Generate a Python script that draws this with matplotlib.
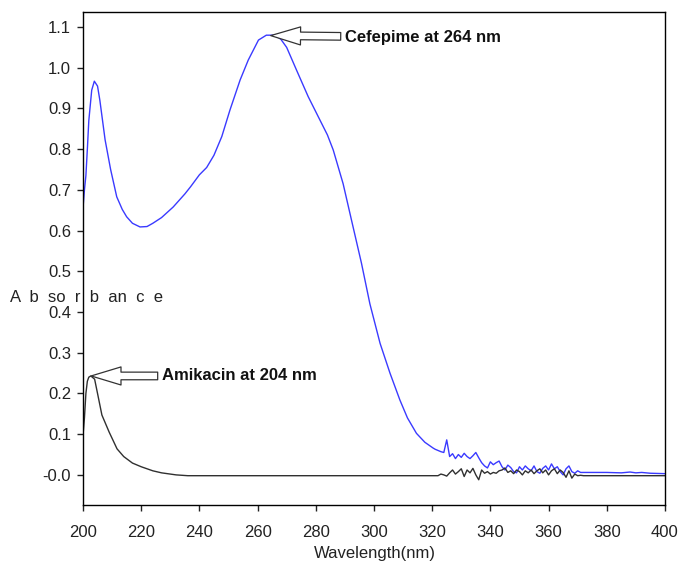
import matplotlib
matplotlib.use("Agg")
import matplotlib.pyplot as plt
import numpy as np

plt.rcParams['font.family'] = ['Liberation Sans', 'DejaVu Sans']

# Cefepime (blue) smooth part
cef_x = [200, 200.5, 201, 201.5, 202, 203, 203.9, 205, 205.8, 207.6, 209.5, 211.6, 213.5, 215, 217,
         219.6, 222, 224, 227, 231, 235, 237, 240, 242.5, 245, 247.7, 250.5, 254, 256.8, 260.3,
         263, 266, 268, 270, 273.4, 277.4, 281.4, 284, 286, 289.4, 292.3, 295.7, 298.6, 302.1,
         305.5, 308.9, 311.5, 314.6, 317.5, 320.3, 321]
cef_y = [0.655, 0.70, 0.735, 0.80, 0.87, 0.945, 0.967, 0.955, 0.92, 0.823, 0.75, 0.683, 0.652, 0.634, 0.618,
         0.609, 0.610, 0.618, 0.632, 0.658, 0.69, 0.708, 0.737, 0.755, 0.785, 0.831, 0.896, 0.970, 1.019, 1.068,
         1.080, 1.080, 1.070, 1.050, 0.994, 0.929, 0.872, 0.835, 0.798, 0.715, 0.625, 0.52, 0.42, 0.323,
         0.25, 0.184, 0.14, 0.102, 0.08, 0.066, 0.063]

# Cefepime noisy tail (1 nm steps, 322-372) and flat end
cef_tail_x = list(range(322, 373)) + [375, 380, 385, 388, 390, 392, 395, 400]
cef_tail_y = [0.060, 0.057, 0.055, 0.086, 0.045, 0.052, 0.040, 0.050, 0.043, 0.053,
              0.045, 0.040, 0.047, 0.055, 0.042, 0.030, 0.022, 0.017, 0.032, 0.025,
              0.030, 0.034, 0.020, 0.012, 0.024, 0.018, 0.008, 0.005, 0.020, 0.012,
              0.022, 0.015, 0.010, 0.022, 0.008, 0.004, 0.016, 0.022, 0.012, 0.027,
              0.015, 0.020, 0.008, 0.000, 0.015, 0.022, 0.008, 0.004, 0.010, 0.006,
              0.006, 0.006, 0.006, 0.005, 0.007, 0.005, 0.006, 0.004, 0.003]

# Amikacin (black)
ami_x = [200, 200.5, 201, 201.5, 202, 202.7, 204, 205, 206.5, 209, 211.7, 214, 217, 220, 224, 227,
         232, 236, 240, 260, 280, 300, 321]
ami_y = [0.096, 0.14, 0.20, 0.23, 0.24, 0.243, 0.235, 0.20, 0.147, 0.105, 0.064, 0.045, 0.029, 0.020,
         0.010, 0.005, 0.0, -0.002, -0.002, -0.002, -0.002, -0.002, -0.002]
ami_tail_x = list(range(322, 373)) + [380, 390, 400]
ami_tail_y = [-0.002, 0.002, 0.000, -0.003, 0.005, 0.012, 0.002, 0.008, 0.015, -0.004,
              0.012, 0.005, 0.016, 0.000, -0.012, 0.012, 0.004, 0.008, 0.002, 0.006,
              0.004, 0.010, 0.012, 0.017, 0.006, 0.010, 0.003, 0.012, 0.008, 0.000,
              0.010, 0.005, 0.012, 0.003, 0.010, 0.015, 0.005, 0.012, 0.000, 0.010,
              0.015, 0.003, 0.012, 0.006, -0.006, 0.010, -0.008, 0.002, -0.002, -0.001,
              -0.002, -0.002, -0.002, -0.002]

x_ticks = [200, 220, 240, 260, 280, 300, 320, 340, 360, 380, 400]
y_ticks = [0.0, 0.1, 0.2, 0.3, 0.4, 0.5, 0.6, 0.7, 0.8, 0.9, 1.0, 1.1]
y_tick_labels = ['-0.0', '0.1', '0.2', '0.3', '0.4', '0.5', '0.6', '0.7', '0.8', '0.9', '1.0', '1.1']

fig = plt.figure(figsize=(6.83, 5.68), dpi=100)
ax = fig.add_axes([0.1215, 0.1109, 0.8521, 0.868])

ax.plot(cef_x + cef_tail_x, cef_y + cef_tail_y, color='#3a3aff', lw=1.0)
ax.plot(ami_x + ami_tail_x, ami_y + ami_tail_y, color='#303030', lw=1.0)

ax.set_xlim(200, 400)
ax.set_ylim(-0.074, 1.137)
ax.set_xticks(x_ticks)
ax.set_yticks(y_ticks)
ax.set_yticklabels(y_tick_labels)
ax.tick_params(axis='both', direction='out', length=4, width=1, labelsize=12, colors='#222222')
ax.tick_params(axis='x', pad=10.5)
ax.tick_params(axis='y', pad=4.5)
for s in ax.spines.values():
    s.set_linewidth(1.0)
    s.set_color('black')

fig.text(0.549, 0.026, 'Wavelength(nm)', ha='center', va='center', fontsize=12, color='#222222')
fig.text(0.014, 0.4754, 'A  b  so  r  b  an  c  e', ha='left', va='center', fontsize=12, color='#222222')

arrow_style = 'simple,head_length=21.5,head_width=13,tail_width=5.5'
ax.annotate('Cefepime at 264 nm', xy=(264.5, 1.079), xytext=(290.0, 1.075),
            ha='left', va='center', fontsize=12, fontweight='bold', color='#111111',
            arrowprops=dict(arrowstyle=arrow_style, mutation_scale=1, fc='white', ec='#333333',
                            lw=0.9, shrinkA=1, shrinkB=0))
ax.annotate('Amikacin at 204 nm', xy=(202.8, 0.243), xytext=(227.1, 0.243),
            ha='left', va='center', fontsize=12, fontweight='bold', color='#111111',
            arrowprops=dict(arrowstyle=arrow_style, mutation_scale=1, fc='white', ec='#333333',
                            lw=0.9, shrinkA=1, shrinkB=0))

fig.savefig('out.png', dpi=100)
